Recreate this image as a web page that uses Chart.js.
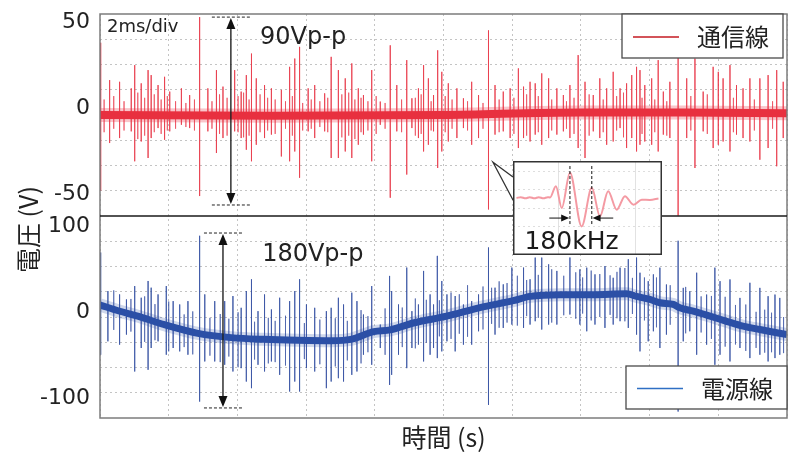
<!DOCTYPE html>
<html>
<head>
<meta charset="utf-8">
<script src="https://cdn.jsdelivr.net/npm/chart.js@4/dist/chart.umd.min.js"></script>
<style>
  html, body { margin: 0; padding: 0; background: #fff; }
  #wrap { position: relative; width: 794px; height: 452px; }
  #main { position: absolute; left: 0; top: 0; }
  #inset { position: absolute; }
</style>
</head>
<body>
<div id="wrap">
  <canvas id="main" width="794" height="452"></canvas>
  <canvas id="inset" width="149" height="94"></canvas>
</div>
<script>
// ── Data (time in ms, voltage in V) ──────────────

// 通信線 (communication line): trace centre + individual spikes
const COM_BASE_T = [0, 5, 10, 14, 17, 20];
const COM_BASE_V = [0, -0.5, 0, 1.5, 1.5, 1];

const COM_SPIKE_T = [
  0.02, 0.28, 0.57, 0.91, 1.01, 1.20, 1.40, 1.49, 1.69, 1.88, 2.03, 2.37, 2.61, 2.90, 3.14, 3.39,
  3.58, 3.92, 4.11, 4.26, 4.41, 4.55, 4.79, 4.99, 5.28, 5.52, 5.67, 5.81, 6.06, 6.25, 6.54, 6.73,
  6.94, 7.14, 7.33, 7.52, 7.67, 7.91, 8.16, 8.45, 8.64, 8.93, 9.08, 9.27, 9.42, 9.56, 9.71, 9.83,
  9.95, 10.14, 10.39, 10.58, 10.82, 11.02, 11.31, 11.50, 11.74, 11.94, 12.18, 12.33, 12.52, 12.67, 12.86, 13.06, 13.30,
  13.49, 13.68, 13.92, 14.12, 14.36, 14.55, 14.75, 14.94, 15.14, 15.33, 15.48, 15.62, 15.72, 15.86, 16.06, 16.25,
  16.40, 16.59, 16.83, 17.08, 17.32, 17.56, 17.85, 18.00, 18.14, 18.34, 18.53, 18.72, 18.92, 19.21, 19.45, 19.70, 19.89
];
const COM_SPIKE_HI = [
  42, 20.3, 19.3, 15.5, 29.0, 18.4, 26.1, 23.2, 17.4, 22.2, 13.6, 15.5, 11.6, 56.9, 15.5, 26.1,
  16.5, 26.1, 13.6, 23.2, 35.7, 21.3, 17.4, 15.5, 14.6, 28.0, 32.8, 39.6, 15.5, 17.4, 12.6, 33.8,
  26.1, 21.3, 30.0, 15.5, 11.6, 26.1, 7.8, 40.5, 17.4, 31.9, 9.7, 15.5, 29.0, 21.3, 11.6, 37.6,
  25.1, 18.4, 15.5, 9.7, 19.3, 11.6, 49.2, 17.4, 13.6, 15.5, 27.1, 16.5, 19.3, 18.4, 24.2, 21.3, 15.5,
  11.6, 17.4, 34.8, 19.3, 11.6, 21.3, 15.5, 25.1, 15.5, 18.4, 23.2, 28.0, 26.1, 17.4, 21.3, 31.9,
  13.6, 19.3, 40, 21.3, 32.8, 13.6, 28.0, 25.1, 21.3, 29.0, 17.4, 15.5, 21.3, 21.3, 23.2, 26.1, 19.3
];
const COM_SPIKE_LO = [
  -44, -16.3, -13.4, -9.5, -26.9, -15.4, -25.0, -13.4, -7.6, -14.4, -9.5, -5.7, -7.6, -47.1, -9.5, -22.1,
  -13.4, -9.5, -13.4, -20.2, -26.9, -17.3, -13.4, -11.4, -24.1, -26.9, -21.2, -36.5, -9.5, -13.4, -9.5, -25.0,
  -25.0, -21.2, -25.0, -17.3, -11.4, -26.9, -5.7, -48.1, -9.5, -34.6, -7.6, -13.4, -21.2, -17.3, -9.5, -30.8,
  -21.2, -15.4, -13.4, -7.6, -17.3, -13.4, -54.9, -11.4, -9.5, -13.4, -19.2, -13.4, -15.4, -11.4, -17.3, -13.4, -11.4,
  -9.5, -13.4, -19.2, -25.0, -9.5, -13.4, -17.3, -15.4, -7.6, -19.2, -13.4, -21.2, -17.3, -15.4, -17.3, -21.2,
  -11.4, -13.4, -58.5, -13.4, -30.8, -9.5, -19.2, -17.3, -15.4, -21.2, -11.4, -13.4, -15.4, -26.0, -19.2, -29.8, -13.4
];
// small spikes in the noise band
const COM_MINOR_T = [
  0.12, 0.40, 0.70, 1.10, 1.30, 1.58, 1.78, 1.96, 2.20, 2.50, 2.75, 3.26, 3.48, 3.70, 4.02,
  4.18, 4.34, 4.66, 4.88, 5.10, 5.40, 5.60, 5.90, 6.15, 6.40, 6.63, 7.04, 7.24, 7.42, 7.60,
  7.80, 8.04, 8.30, 8.78, 9.18, 9.35, 9.64, 10.05, 10.25, 10.70, 11.15, 11.62, 12.05, 12.42, 12.76,
  13.15, 13.58, 13.80, 14.24, 14.65, 15.04, 15.24, 15.78, 16.15, 16.50, 17.20, 17.68, 18.44, 19.05, 19.58
];
const COM_MINOR_HI = [
  9, 11, 8, 13, 10, 12, 9, 11, 8, 7, 9, 8, 12, 10, 11,
  13, 9, 12, 10, 9, 8, 11, 7, 9, 8, 10, 12, 13, 9, 10,
  8, 11, 7, 9, 10, 12, 8, 11, 9, 8, 7, 9, 10, 12, 11,
  9, 8, 10, 12, 9, 11, 13, 10, 9, 8, 11, 12, 10, 9, 8
];
const COM_MINOR_LO = [
  -10, -8, -9, -14, -12, -10, -11, -9, -8, -7, -9, -8, -11, -12, -10,
  -13, -12, -10, -9, -11, -8, -12, -9, -8, -7, -10, -13, -12, -14, -10,
  -9, -11, -8, -10, -12, -11, -9, -10, -8, -9, -8, -10, -11, -12, -10,
  -9, -8, -11, -12, -10, -9, -13, -11, -10, -12, -9, -11, -10, -9, -8
];

// 電源線 (power line): 50 Hz trace centre + spikes
const PWR_BASE_T = [0, 0.55, 1.1, 1.88, 2.85, 3.82, 4.79, 5.76, 6.73, 7.3, 7.97, 8.45, 9.12, 10.09, 11.06, 12.03,
  12.52, 13.40, 14.36, 15.33, 15.62, 16.01, 16.30, 16.69, 16.88, 17.27, 17.76, 18.24, 18.72, 19.21, 20];
const PWR_BASE_V = [14, 7, 1, -9, -19, -24, -26, -27, -27.5, -26, -17, -15, -7, 1, 11, 19,
  24, 26, 26, 27, 24, 20.5, 16.6, 14.6, 10.7, 6.8, 1, -5, -10.7, -14.6, -20.5];

const PWR_SPIKE_T = [
  0.02, 0.23, 0.57, 0.77, 1.01, 1.20, 1.40, 1.49, 1.69, 1.93, 2.13, 2.32, 2.56, 2.90, 3.05, 3.34,
  3.63, 3.87, 4.11, 4.26, 4.41, 4.60, 4.79, 4.99, 5.23, 5.52, 5.67, 5.81, 6.01, 6.25, 6.59, 6.73,
  6.94, 7.09, 7.33, 7.48, 7.67, 7.91, 8.16, 8.43, 8.49, 8.69, 8.93, 9.08, 9.27, 9.42, 9.61, 9.71,
  9.82, 9.95, 10.10, 10.34, 10.58, 10.82, 11.02, 11.31, 11.50, 11.74, 11.99, 12.33, 12.52, 12.67, 12.86, 13.06, 13.30,
  13.68, 13.97, 14.17, 14.41, 14.70, 14.94, 15.14, 15.38, 15.62, 15.72, 15.96, 16.11, 16.30, 16.49,
  16.83, 16.98, 17.17, 17.37, 17.66, 17.90, 18.05, 18.34, 18.63, 18.92, 19.21, 19.45, 19.65, 19.79
];
const PWR_SPIKE_HI = [
  75.0, 30.2, 26.3, 20.5, 36.0, 22.4, 41.9, 34.1, 26.3, 36.0, 18.5, 14.6, 18.5, 94.5, 26.3, 18.5,
  18.5, 24.4, 10.7, 30.2, 43.9, 6.8, 26.3, 8.8, 22.4, 18.5, 30.2, 43.9, 14.6, 10.7, 6.8, 10.7,
  22.4, 14.6, 28.3, 18.5, 2.9, 36.0, -8.8, 47.8, 30.2, 14.6, 57.5, 6.8, 14.6, 53.6, 26.3, 14.6,
  71.1, 41.9, 26.3, 24.4, 14.6, 18.5, 26.3, 80.9, 34.1, 38.0, 57.5, 57.5, 43.9, 69.1, 69.1, 61.3, 53.6,
  69.2, 55.4, 57.4, 49.6, 59.3, 45.6, 57.4, 67.2, 69.2, 51.5, 41.7, 49.6, 57.4, 37.8,
  88.7, 33.9, 30.0, 51.5, 26.1, 57.4, 41.7, 43.7, 22.2, 39.8, 33.9, 24.2, 26.1, 22.2
];
const PWR_SPIKE_LO = [
  -43.9, -28.3, -32.2, -20.5, -63.4, -36.1, -61.4, -36.1, -28.3, -43.9, -36.1, -40.0, -43.9, -98.4, -51.7, -51.7,
  -55.6, -63.4, -59.5, -75.1, -82.8, -55.6, -63.4, -51.7, -67.3, -86.7, -75.1, -86.7, -59.5, -63.4, -82.8, -75.1,
  -71.2, -75.1, -67.3, -63.4, -43.9, -55.6, -36.1, -79.0, -67.3, -43.9, -59.5, -36.1, -32.2, -51.7, -43.9, -36.1,
  -47.8, -40.0, -28.3, -40.0, -32.2, -32.2, -16.6, -102.3, -20.5, -12.7, -8.8, -12.7, -8.8, -4.9, -14.6, -8.8, -8.8,
  2.9, -8.8, -16.6, -8.8, -12.7, -8.8, -4.9, -12.7, -20.5, -40.0, -28.3, -16.6, -36.1, -20.5,
  -110, -28.3, -16.6, -43.9, -32.2, -55.6, -43.9, -51.7, -36.1, -47.8, -43.9, -51.7, -47.8, -43.9
];
const PWR_MINOR_T = [
  0.40, 0.90, 1.30, 1.60, 2.00, 2.45, 2.70, 3.20, 3.50, 3.75, 4.02, 4.50, 4.90, 5.10, 5.40,
  5.95, 6.40, 6.85, 7.20, 7.60, 7.80, 8.30, 8.80, 9.18, 9.50, 9.88, 10.22, 10.46, 10.70, 11.15,
  11.40, 11.62, 11.85, 12.15, 12.42, 12.76, 13.15, 13.50, 13.85, 14.05, 14.30, 14.55, 14.85, 15.05, 15.28,
  15.50, 15.85, 16.20, 16.60, 17.05, 17.50, 17.80, 18.20, 18.50, 18.80, 19.10, 19.35, 19.55, 19.90
];
const PWR_MINOR_HI = [
  31, 21, 24, 15, 18, 3, 6.5, -1, 3.5, -2, 5.5, -5.5, -1, -4.5, 1.5,
  -7, -3, -1.5, -4.5, 8, 1, 10, 11, 21.5, 20, 19.5, 28.5, 26.5, 37, 35.5,
  34, 41.5, 39.5, 48, 43, 49, 55.5, 48, 52, 46, 54, 50, 48.5, 52.5, 57,
  45.5, 46, 46, 37, 35, 24, 24.5, 23.5, 14, 14.5, 6, 8.5, 5, 0
];
const PWR_MINOR_LO = [
  -15, -17, -29, -27, -40, -35, -43.5, -45, -52.5, -46, -58.5, -49.5, -54, -52.5, -56.5,
  -49, -55, -57.5, -50.5, -54, -41, -44, -35, -36.5, -30, -22.5, -25.5, -19.5, -23, -14.5,
  -8, -12.5, -6.5, -10, 1, -1, -6.5, 2, -2, 4, -4, 0, 2.5, -1.5, -5,
  3.5, -4, -12, -9, -19, -18, -25.5, -34.5, -32, -39.5, -36, -41.5, -41, -42
];

// inset: one burst, time in µs
const INSET_T = [0.9, 2.0, 3.2, 4.3, 5.5, 6.6, 7.8, 8.9, 9.5, 11.0, 12.5, 14.6, 17.6, 20.2, 22.3, 24.4, 26.6, 28.7, 30.9, 33.0, 35.1, 37.3];
const INSET_V = [0, 0.8, -0.4, 0.8, -0.4, 0.8, -0.4, 0.8, 0.5, 11.7, -10, 25, -28.3, 10, -18.3, 6.7, -11.7, 1.7, -6.7, -1.7, -2, -0.5];
const INSET_PEAKS = [14.6, 20.2];

// axis ticks
const TOP_LABELS = [50, 0, -50];
const BOT_LABELS = [100, 0, -100];

// ── Layout / style ───────────────────────────────────────────────────────────

const TOP_MIN = -58.7, TOP_MAX = 58.7;
const BOT_MIN = -117.5, BOT_MAX = 117.5;
const FONT = "'DejaVu Sans', Verdana, sans-serif";
const JP = "'Noto Sans CJK JP', 'Noto Sans CJK SC', sans-serif";
const GRID = '#c4c4c4';
const INSET_BOX = { left: 513, top: 161 };

const zip = (ts, vs) => ts.map((t, i) => ({ x: t, y: vs[i] }));
function spikes(ts, hi, lo) {
  const pts = [];
  ts.forEach((t, i) => pts.push({ x: t, y: hi[i] }, { x: t, y: lo[i] }, { x: t, y: null }));
  return pts;
}
// 8 scope divisions per panel
function divisions(min, max) {
  const d = (max - min) / 8;
  return [1, 2, 3, 5, 6, 7].map(k => min + d * k);
}

function yScale(min, max, labels, offset, weight) {
  const grid = divisions(min, max);
  return {
    type: 'linear', position: 'left', stack: 'volts', stackWeight: 1, weight,
    min, max,
    afterBuildTicks: s => { s.ticks = [...grid, ...labels].sort((a, b) => a - b).map(value => ({ value })); },
    afterFit: s => { s.width = 100; s.paddingTop = 0; s.paddingBottom = 0; },
    ticks: {
      autoSkip: false, padding: 10, labelOffset: offset,
      color: '#222', font: { family: FONT, size: 22 },
      callback: v => (labels.includes(v) ? String(v) : ''),
    },
    grid: {
      drawTicks: false,
      color: c => (c.tick && labels.includes(c.tick.value) && c.tick.value !== 0 ? 'rgba(0,0,0,0)' : GRID),
    },
    border: { display: false, dash: [2, 3] },
  };
}

function drawSpan(ctx, px, yTop, yBot) {
  ctx.strokeStyle = '#222';
  ctx.lineWidth = 1;
  ctx.setLineDash([3, 2]);
  [yTop, yBot].forEach(y => { ctx.beginPath(); ctx.moveTo(px - 19, y); ctx.lineTo(px + 19, y); ctx.stroke(); });
  ctx.setLineDash([]);
  ctx.lineWidth = 1.4;
  ctx.beginPath(); ctx.moveTo(px, yTop + 8); ctx.lineTo(px, yBot - 8); ctx.stroke();
  ctx.fillStyle = '#111';
  ctx.beginPath(); ctx.moveTo(px, yTop + 1); ctx.lineTo(px - 4.5, yTop + 12); ctx.lineTo(px + 4.5, yTop + 12); ctx.fill();
  ctx.beginPath(); ctx.moveTo(px, yBot - 1); ctx.lineTo(px - 4.5, yBot - 12); ctx.lineTo(px + 4.5, yBot - 12); ctx.fill();
}

function legendBox(ctx, x, y, w, h, color, label) {
  ctx.fillStyle = '#fff';
  ctx.fillRect(x, y, w, h);
  ctx.strokeStyle = '#4a4a4a';
  ctx.lineWidth = 1.3;
  ctx.strokeRect(x, y, w, h);
  ctx.strokeStyle = color;
  ctx.lineWidth = 1.5;
  ctx.beginPath(); ctx.moveTo(x + 11, y + h / 2 + 1); ctx.lineTo(x + 57, y + h / 2 + 1); ctx.stroke();
  ctx.fillStyle = '#222';
  ctx.font = `24px ${JP}`;
  ctx.textAlign = 'left';
  ctx.textBaseline = 'middle';
  ctx.fillText(label, x + 75, y + h / 2 + 1);
}

const decoPlugin = {
  id: 'deco',
  afterDatasetsDraw(chart) {
    const { ctx, chartArea: a, scales: { x, yT, yB } } = chart;
    ctx.save();

    // frame and panel separator
    ctx.strokeStyle = '#7c7c7c';
    ctx.lineWidth = 1.5;
    ctx.strokeRect(a.left, a.top, a.right - a.left, a.bottom - a.top);
    ctx.strokeStyle = '#1a1a1a';
    ctx.beginPath(); ctx.moveTo(a.left, yT.bottom); ctx.lineTo(a.right, yT.bottom); ctx.stroke();

    // peak-to-peak markers
    drawSpan(ctx, x.getPixelForValue(3.81), yT.getPixelForValue(56.9), yT.getPixelForValue(-52.3));
    drawSpan(ctx, x.getPixelForValue(3.58), yB.getPixelForValue(97.7), yB.getPixelForValue(-105.8));

    ctx.fillStyle = '#222';
    ctx.textAlign = 'left';
    ctx.textBaseline = 'alphabetic';
    ctx.font = `24px ${FONT}`;
    ctx.fillText('90Vp-p', x.getPixelForValue(4.66), yT.getPixelForValue(41.3));
    ctx.fillText('180Vp-p', x.getPixelForValue(4.72), yB.getPixelForValue(65.3));
    ctx.font = `18px ${FONT}`;
    ctx.fillText('2ms/div', a.left + 7, a.top + 18);

    legendBox(ctx, a.right - 165, a.top, 161, 44, '#c41a22', '通信線');
    legendBox(ctx, a.right - 161, a.bottom - 52, 161, 43, '#2f6fc4', '電源線');

    // callout from the spike to the inset
    const tx = x.getPixelForValue(11.44), ty = yT.getPixelForValue(-27.5);
    ctx.fillStyle = '#fff';
    ctx.beginPath(); ctx.moveTo(tx, ty); ctx.lineTo(INSET_BOX.left + 1, INSET_BOX.top + 16);
    ctx.lineTo(INSET_BOX.left + 1, INSET_BOX.top + 39); ctx.closePath(); ctx.fill();
    ctx.strokeStyle = '#333';
    ctx.lineWidth = 1.3;
    ctx.beginPath(); ctx.moveTo(INSET_BOX.left, INSET_BOX.top + 16); ctx.lineTo(tx, ty);
    ctx.lineTo(INSET_BOX.left, INSET_BOX.top + 39); ctx.stroke();

    // y title across both panels
    ctx.translate(28, 273);
    ctx.rotate(-Math.PI / 2);
    ctx.fillStyle = '#222';
    ctx.font = `25px ${JP}`;
    ctx.textBaseline = 'middle';
    ctx.fillText('電圧 (V)', 0, 0);
    ctx.restore();
  },
};

new Chart(document.getElementById('main'), {
  type: 'line',
  data: {
    datasets: [
      { data: zip(COM_BASE_T, COM_BASE_V), yAxisID: 'yT', borderColor: '#e8303f', borderWidth: 8, cubicInterpolationMode: 'monotone' },
      { data: zip(PWR_BASE_T, PWR_BASE_V), yAxisID: 'yB', borderColor: '#2b4fa6', borderWidth: 7, cubicInterpolationMode: 'monotone' },
      { data: spikes(COM_SPIKE_T, COM_SPIKE_HI, COM_SPIKE_LO), yAxisID: 'yT', borderColor: 'rgba(232,52,68,0.6)', borderWidth: 1 },
      { data: spikes(PWR_SPIKE_T, PWR_SPIKE_HI, PWR_SPIKE_LO), yAxisID: 'yB', borderColor: 'rgba(48,76,160,0.6)', borderWidth: 1 },
      { data: spikes(COM_MINOR_T, COM_MINOR_HI, COM_MINOR_LO), yAxisID: 'yT', borderColor: 'rgba(232,52,68,0.45)', borderWidth: 1 },
      { data: spikes(PWR_MINOR_T, PWR_MINOR_HI, PWR_MINOR_LO), yAxisID: 'yB', borderColor: 'rgba(48,76,160,0.45)', borderWidth: 1 },
      { data: zip(COM_BASE_T, COM_BASE_V), yAxisID: 'yT', borderColor: 'rgba(232,48,63,0.28)', borderWidth: 14, cubicInterpolationMode: 'monotone' },
      { data: zip(PWR_BASE_T, PWR_BASE_V), yAxisID: 'yB', borderColor: 'rgba(43,79,166,0.22)', borderWidth: 13, cubicInterpolationMode: 'monotone' },
    ].map(d => ({ pointRadius: 0, fill: false, ...d })),
  },
  options: {
    responsive: false,
    animation: false,
    devicePixelRatio: 1,
    events: [],
    layout: { padding: { top: 14, right: 7, left: 0, bottom: 0 } },
    plugins: { legend: { display: false }, tooltip: { enabled: false } },
    scales: {
      x: {
        type: 'linear', position: 'bottom', min: 0, max: 20,
        afterFit: s => { s.height = 34; s.paddingLeft = 0; s.paddingRight = 0; },
        ticks: { display: false, stepSize: 2 },
        grid: { color: GRID, drawTicks: false },
        border: { display: false, dash: [2, 3] },
        title: { display: true, text: '時間 (s)', color: '#222', font: { family: JP, size: 25 }, padding: { top: 0, bottom: 0 } },
      },
      yT: yScale(TOP_MIN, TOP_MAX, TOP_LABELS, -7, 1),
      yB: yScale(BOT_MIN, BOT_MAX, BOT_LABELS, -5, 0),
    },
  },
  plugins: [decoPlugin],
});

// ── Inset: zoom on one burst ────────────────────────────────────────────────

const insetCanvas = document.getElementById('inset');
insetCanvas.style.left = INSET_BOX.left + 'px';
insetCanvas.style.top = INSET_BOX.top + 'px';

function arrowH(ctx, x0, x1, y) {
  const dir = Math.sign(x1 - x0);
  ctx.beginPath(); ctx.moveTo(x0, y); ctx.lineTo(x1 - dir * 6, y); ctx.stroke();
  ctx.beginPath(); ctx.moveTo(x1, y); ctx.lineTo(x1 - dir * 8, y - 3.5); ctx.lineTo(x1 - dir * 8, y + 3.5); ctx.fill();
}

const insetPlugin = {
  id: 'insetDeco',
  beforeDraw(chart) {
    const { ctx, width, height } = chart;
    ctx.save();
    ctx.fillStyle = '#fff';
    ctx.fillRect(0, 0, width, height);
    ctx.restore();
  },
  afterDatasetsDraw(chart) {
    const { ctx, width, height, scales: { x, y } } = chart;
    ctx.save();
    ctx.strokeStyle = '#111';
    ctx.lineWidth = 1;
    ctx.setLineDash([3, 2]);
    INSET_PEAKS.forEach(t => {
      const px = x.getPixelForValue(t);
      ctx.beginPath(); ctx.moveTo(px, y.getPixelForValue(31.7)); ctx.lineTo(px, y.getPixelForValue(-27)); ctx.stroke();
    });
    ctx.setLineDash([]);
    ctx.fillStyle = '#111';
    arrowH(ctx, x.getPixelForValue(9.3), x.getPixelForValue(14.4), y.getPixelForValue(-20));
    arrowH(ctx, x.getPixelForValue(25.7), x.getPixelForValue(20.4), y.getPixelForValue(-20));
    ctx.font = `25px ${FONT}`;
    ctx.fillStyle = '#1a1a1a';
    ctx.textAlign = 'center';
    ctx.textBaseline = 'middle';
    ctx.fillText('180kHz', x.getPixelForValue(15.0), y.getPixelForValue(-44));
    ctx.strokeStyle = '#333';
    ctx.lineWidth = 1.5;
    ctx.strokeRect(0.75, 0.75, width - 1.5, height - 1.5);
    ctx.restore();
  },
};

new Chart(insetCanvas, {
  type: 'line',
  data: {
    datasets: [{
      data: zip(INSET_T, INSET_V), borderColor: '#f49aa3', borderWidth: 2,
      pointRadius: 0, fill: false, cubicInterpolationMode: 'monotone',
    }],
  },
  options: {
    responsive: false,
    animation: false,
    devicePixelRatio: 1,
    events: [],
    layout: { padding: 0 },
    plugins: { legend: { display: false }, tooltip: { enabled: false } },
    scales: {
      x: {
        type: 'linear', min: 0, max: 38.2,
        afterBuildTicks: s => { s.ticks = [11.7, 31.4].map(value => ({ value })); },
        afterFit: s => { s.height = 0; },
        ticks: { display: false },
        grid: { color: '#e2e2e2', drawTicks: false },
        border: { display: false },
      },
      y: {
        type: 'linear', min: -56.7, max: 36.7,
        afterBuildTicks: s => { s.ticks = [-28, -10, 8, 26].map(value => ({ value })); },
        afterFit: s => { s.width = 0; },
        ticks: { display: false },
        grid: { color: '#dedede', drawTicks: false },
        border: { display: false, dash: [2, 3] },
      },
    },
  },
  plugins: [insetPlugin],
});
</script>
</body>
</html>
